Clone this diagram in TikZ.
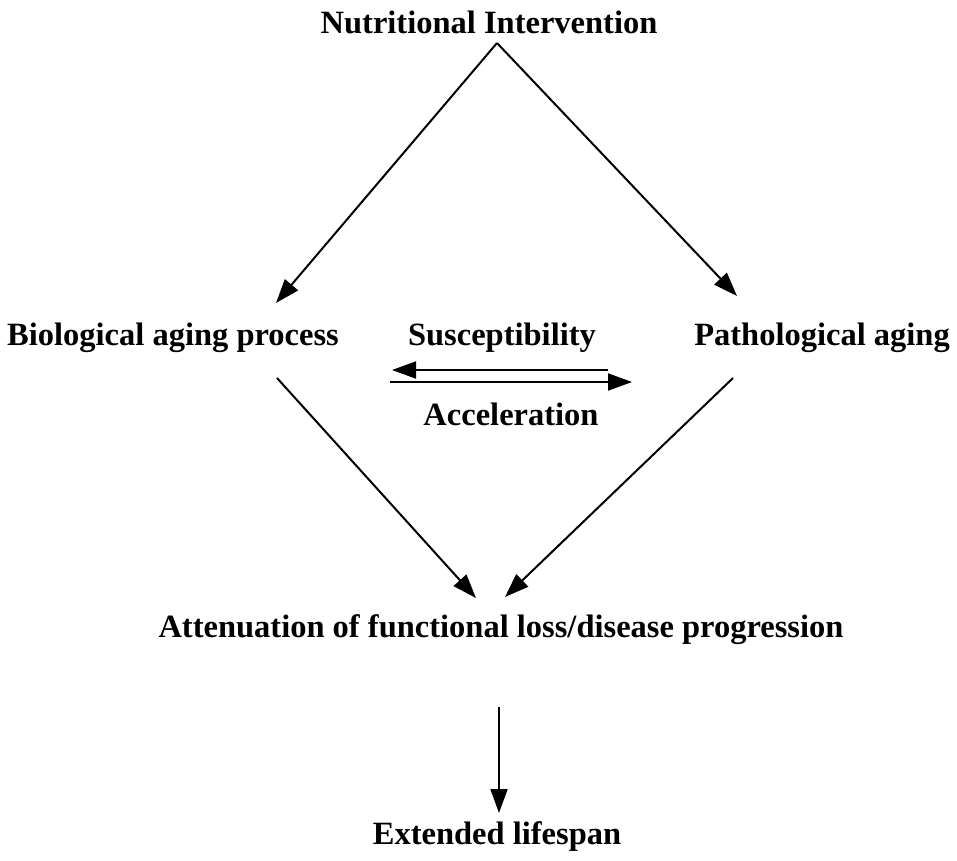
\documentclass[tikz,border=0pt]{standalone}
\usepackage{fontspec}
\setmainfont{Liberation Serif}
\usetikzlibrary{arrows.meta}
\begin{document}
\begin{tikzpicture}[x=1pt,y=-1pt,
  lbl/.style={font=\fontsize{32.5}{38}\selectfont\bfseries, inner sep=0pt, anchor=center},
  arr/.style={line width=2pt, -{Triangle[length=24pt,width=17pt]}}]
\useasboundingbox (0,0) rectangle (957,860);
\node[lbl] (ni) at (489,22) {Nutritional Intervention};
\node[lbl] (bio) at (173,338) {Biological aging process};
\node[lbl] (sus) at (502,338) {Susceptibility};
\node[lbl] (pat) at (822,338) {Pathological aging};
\node[lbl] (acc) at (511,414) {Acceleration};
\node[lbl] (att) at (501,630) {Attenuation of functional loss/disease progression};
\node[lbl] (ext) at (497,836) {Extended lifespan};
\coordinate (apex) at (497,43);
\coordinate (bioT) at (276,303);
\coordinate (patT) at (737,296);
\coordinate (bioS) at (277,378);
\coordinate (patS) at (733,378);
\coordinate (attL) at (476,598);
\coordinate (attR) at (505,597);
\coordinate (attB) at (499,707);
\coordinate (extT) at (499,813);
\coordinate (lA) at (608,370);
\coordinate (lB) at (392,370);
\coordinate (rA) at (390,382);
\coordinate (rB) at (632,382);
\draw[arr] (apex) -- (bioT);
\draw[arr] (apex) -- (patT);
\draw[arr] (bioS) -- (attL);
\draw[arr] (patS) -- (attR);
\draw[arr] (attB) -- (extT);
\draw[arr] (lA) -- (lB);
\draw[arr] (rA) -- (rB);
\end{tikzpicture}
\end{document}
